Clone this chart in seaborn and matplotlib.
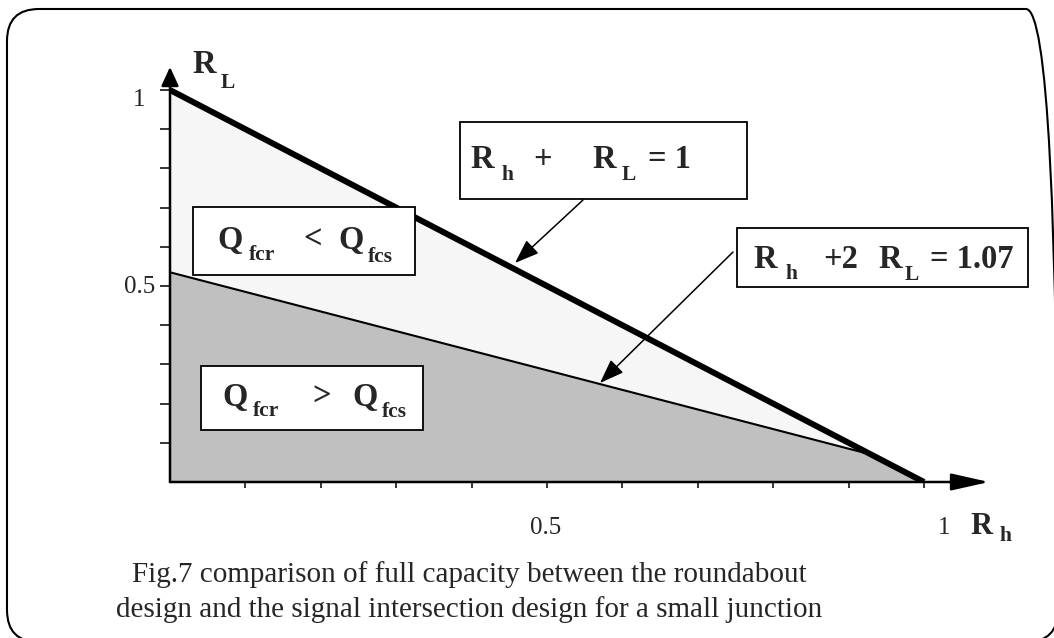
import numpy as np
import matplotlib
matplotlib.use("Agg")
import matplotlib.pyplot as plt
import seaborn as sns
from matplotlib.patches import Rectangle, FancyBboxPatch
from matplotlib.transforms import IdentityTransform

# ---------------- data ----------------
rh_total = [0.0, 1.0]          # R_h + R_L = 1
rl_total = [1.0, 0.0]
rh_signal = [0.0, 0.93]        # R_h + 2 R_L = 1.07
rl_signal = [0.535, 0.07]
x_ticks = [0.1, 0.2, 0.3, 0.4, 0.5, 0.6, 0.7, 0.8, 0.9, 1.0]
y_ticks = [0.1, 0.2, 0.3, 0.4, 0.5, 0.6, 0.7, 0.8, 0.9, 1.0]
x_tick_labels = ["0.5", "1"]
y_tick_labels = ["0.5", "1"]
caption_lines = ["Fig.7 comparison of full capacity between the roundabout",
                 "design and the signal intersection design for a small junction"]

sns.set_style("white")
SERIF = ["Liberation Serif", "DejaVu Serif"]
plt.rcParams["font.family"] = SERIF

W, H = 1054, 638
fig = plt.figure(figsize=(W / 100, H / 100), dpi=100)
fig.patch.set_facecolor("white")

# pixel geometry of the axes
X0, Y0, SX, SY = 170, 482, 754, 392
XMAX, YMAX = 1.1, 1.08
ax = fig.add_axes([X0 / W, (H - Y0) / H, XMAX * SX / W, YMAX * SY / H])
ax.set_xlim(0, XMAX)
ax.set_ylim(0, YMAX)
ax.patch.set_alpha(0)
for s in ax.spines.values():
    s.set_visible(False)


def d(px, py):
    """figure pixel (from top-left) -> data coords"""
    return (px - X0) / SX, (Y0 - py) / SY


# fills
ax.fill_between(rh_total, rl_total, 0, color="#f6f6f6", lw=0, zorder=1)
gray_x = rh_signal + [rh_total[-1]]
gray_y = rl_signal + [rl_total[-1]]
ax.fill_between(gray_x, gray_y, 0, color="#c0c0c0", lw=0, zorder=1)

# lines
sns.lineplot(x=rh_signal, y=rl_signal, ax=ax, color="black", lw=1.5, sort=False, zorder=3)
sns.lineplot(x=rh_total, y=rl_total, ax=ax, color="black", lw=4.3, sort=False,
             solid_capstyle="butt", zorder=4)

# axis lines with arrow heads
ax.annotate("", xy=(d(989, 0)[0], 0), xytext=(0, 0),
            arrowprops=dict(arrowstyle="-|>,head_length=0.8,head_width=0.18",
                            mutation_scale=29, lw=1.8, color="black",
                            shrinkA=0, shrinkB=0),
            annotation_clip=False, zorder=5)
ax.annotate("", xy=(0, d(0, 67)[1]), xytext=(0, 0),
            arrowprops=dict(arrowstyle="-|>,head_length=0.5,head_width=0.23",
                            mutation_scale=23, lw=1.8, color="black",
                            shrinkA=0, shrinkB=0),
            annotation_clip=False, zorder=5)

ax.set_xticks(x_ticks)
ax.set_yticks(y_ticks)
ax.set_xticklabels([])
ax.set_yticklabels([])
ax.tick_params(axis="x", bottom=True, direction="out", length=4, width=1.1, color="black")
ax.tick_params(axis="y", left=True, direction="out", length=7, width=1.1, color="black")
ax.grid(False)

# boxes
def box(px0, py0, px1, py1):
    x0, y1 = d(px0, py0)
    x1, y0 = d(px1, py1)
    ax.add_patch(Rectangle((x0, y0), x1 - x0, y1 - y0, facecolor="white",
                           edgecolor="black", lw=1.3, zorder=6, clip_on=False))

box(460, 122, 747, 199)
box(737, 228, 1028, 287)
box(193, 207, 415, 275)
box(201, 366, 423, 430)

# annotation arrows
arr = dict(arrowstyle="-|>,head_length=0.6,head_width=0.22", mutation_scale=25,
           lw=1.1, color="black", shrinkA=0, shrinkB=0)
ax.annotate("", xy=d(515, 263), xytext=d(583, 200), arrowprops=arr, zorder=7)
ax.annotate("", xy=d(600, 383), xytext=d(733, 252), arrowprops=arr, zorder=7)


def ptext(px, py, s, size, weight="normal", ha="left"):
    fig.text(px / W, 1 - py / H, s, fontsize=size, fontweight=weight, ha=ha,
             va="baseline", family=SERIF, zorder=10)


BIG, SUB = 23.5, 15.5
pieces = [
    # y-axis name
    (192, 73, "R", BIG), (221, 88, "L", SUB),
    # box 1
    (470, 168, "R", BIG), (502, 180, "h", SUB), (533, 168, "+", BIG),
    (592, 168, "R", BIG), (622, 180, "L", SUB), (648, 168, "= 1", BIG),
    # box 2
    (753, 268, "R", BIG), (785, 279, "h", SUB), (823, 268, "+2", BIG),
    (878, 268, "R", BIG), (905, 280, "L", SUB), (930, 268, "= 1.07", BIG),
    # Q < box
    (217, 249, "Q", BIG), (249, 260, "fcr", SUB), (303, 249, "<", BIG),
    (338, 249, "Q", BIG), (368, 262, "fcs", SUB),
    # Q > box
    (222, 406, "Q", BIG), (253, 416, "fcr", SUB), (312, 406, ">", BIG),
    (352, 406, "Q", BIG), (382, 417, "fcs", SUB),
    # x-axis name
    (970, 534, "R", 22), (1000, 541, "h", SUB),
]
for px, py, s, sz in pieces:
    ptext(px, py, s, sz, weight="bold")

# tick labels
ptext(546, 534, x_tick_labels[0], 18, ha="center")
ptext(938, 534, x_tick_labels[1], 18)
ptext(155, 293, y_tick_labels[0], 18, ha="right")
ptext(145, 106, y_tick_labels[1], 18, ha="right")

# caption
ptext(469, 582, caption_lines[0], 21, ha="center")
ptext(469, 617, caption_lines[1], 21, ha="center")

# rounded frame
frame = FancyBboxPatch((7, H - 642), 1058 - 7, 642 - 9,
                       boxstyle="round,pad=0,rounding_size=32",
                       transform=IdentityTransform(), fill=False,
                       edgecolor="black", lw=1.5)
fig.patches.append(frame)

fig.savefig("out.png", dpi=100, facecolor="white")
